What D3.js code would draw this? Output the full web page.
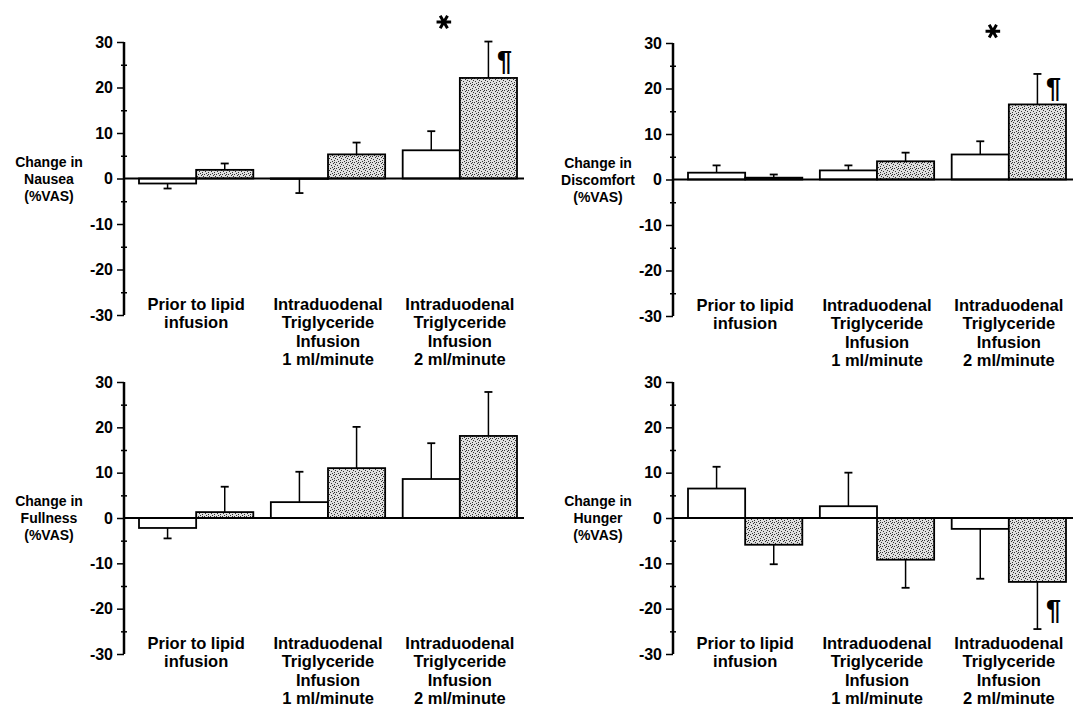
<!DOCTYPE html>
<html>
<head>
<meta charset="utf-8">
<script src="https://cdn.jsdelivr.net/npm/d3@7"></script>
<style>
  body { margin: 0; background: #fff; }
  svg { display: block; font-family: "Liberation Sans", Arial, sans-serif; font-weight: bold; }
</style>
</head>
<body>
<svg id="chart" width="1073" height="711"></svg>
<script>
// categories (multi-line labels)
const categories = [
  ["Prior to lipid", "infusion"],
  ["Intraduodenal", "Triglyceride", "Infusion", "1 ml/minute"],
  ["Intraduodenal", "Triglyceride", "Infusion", "2 ml/minute"]
];
const yTicks = [-30, -20, -10, 0, 10, 20, 30];
const series = ["open", "stippled"];

// means and SEM
const nauseaOpen = [-1.1, -0.1, 6.2];
const nauseaOpenSem = [1.1, 3.1, 4.2];
const nauseaStip = [1.9, 5.3, 22.1];
const nauseaStipSem = [1.4, 2.6, 8.0];

const discomfortOpen = [1.5, 2.0, 5.5];
const discomfortOpenSem = [1.6, 1.1, 2.9];
const discomfortStip = [0.4, 4.0, 16.5];
const discomfortStipSem = [0.7, 1.9, 6.7];

const fullnessOpen = [-2.2, 3.5, 8.6];
const fullnessOpenSem = [2.3, 6.7, 7.9];
const fullnessStip = [1.3, 11.0, 18.1];
const fullnessStipSem = [5.6, 9.1, 9.7];

const hungerOpen = [6.5, 2.6, -2.4];
const hungerOpenSem = [4.8, 7.4, 11.0];
const hungerStip = [-5.9, -9.2, -14.1];
const hungerStipSem = [4.3, 6.2, 10.4];

// significance marks: [panel, group, series, symbol, value]
const marks = [
  ["Nausea", 2, null, "*", 34.4],
  ["Nausea", 2, "stippled", "¶", 25.8],
  ["Discomfort", 2, null, "*", 32.6],
  ["Discomfort", 2, "stippled", "¶", 20.1],
  ["Hunger", 2, "stippled", "¶", -20.3]
];

const panels = [
  { name: "Nausea", open: nauseaOpen, openSem: nauseaOpenSem, stip: nauseaStip, stipSem: nauseaStipSem,
    axisX: 124, top: 42, bottom: 315 },
  { name: "Discomfort", open: discomfortOpen, openSem: discomfortOpenSem, stip: discomfortStip, stipSem: discomfortStipSem,
    axisX: 673, top: 43, bottom: 316 },
  { name: "Fullness", open: fullnessOpen, openSem: fullnessOpenSem, stip: fullnessStip, stipSem: fullnessStipSem,
    axisX: 124, top: 382, bottom: 654 },
  { name: "Hunger", open: hungerOpen, openSem: hungerOpenSem, stip: hungerStip, stipSem: hungerStipSem,
    axisX: 673, top: 382, bottom: 654 }
];

const svg = d3.select("#chart");

// stipple fill
const pat = svg.append("defs").append("pattern")
  .attr("id", "stipple")
  .attr("width", 6).attr("height", 6)
  .attr("patternUnits", "userSpaceOnUse");
pat.append("rect").attr("width", 6).attr("height", 6).attr("fill", "#e0e0e0");
[[0, 0], [3, 1], [1, 3], [4, 4], [5, 2], [2, 5], [4, 0]].forEach(([x, y]) => {
  pat.append("rect").attr("x", x).attr("y", y).attr("width", 1).attr("height", 1).attr("fill", "#333");
});

panels.forEach(drawPanel);

function drawPanel(p) {
  const g = svg.append("g").attr("class", "panel");

  const y = d3.scaleLinear().domain([-30, 30]).range([p.bottom, p.top]);
  const x = d3.scaleBand()
    .domain(d3.range(categories.length))
    .range([p.axisX + 15, p.axisX + 393])
    .paddingInner(0.133)
    .paddingOuter(0);
  const xs = d3.scaleBand().domain(series).range([0, x.bandwidth()]);

  // y axis
  const axis = d3.axisLeft(y)
    .tickValues(d3.range(-30, 31, 5))
    .tickSize(5)
    .tickFormat((d) => (yTicks.includes(d) ? d : ""));
  const ag = g.append("g")
    .attr("transform", `translate(${p.axisX},0)`)
    .call(axis);
  ag.select(".domain").attr("stroke", "#000").attr("stroke-width", 2.5)
    .attr("d", `M0,${p.top}V${p.bottom}`);
  ag.selectAll(".tick line")
    .attr("stroke", "#000")
    .attr("stroke-width", 1.5)
    .attr("x1", (d) => (yTicks.includes(d) ? 0 : 3))
    .attr("x2", (d) => (yTicks.includes(d) ? -7 : -3));
  ag.selectAll(".tick text")
    .attr("x", -11)
    .attr("font-size", 16)
    .attr("font-family", "Liberation Sans, Arial, sans-serif")
    .attr("font-weight", "bold")
    .attr("fill", "#000");

  // y label
  const yl = g.append("text")
    .attr("x", p.axisX - 75)
    .attr("y", y(0) + 5)
    .attr("text-anchor", "middle")
    .attr("font-size", 14);
  ["Change in", p.name, "(%VAS)"].forEach((t, i) => {
    yl.append("tspan").attr("x", p.axisX - 75).attr("dy", i === 0 ? -17 : 17).text(t);
  });

  // bars
  const rows = [];
  categories.forEach((c, i) => {
    rows.push({ group: i, s: "open", v: p.open[i], sem: p.openSem[i] });
    rows.push({ group: i, s: "stippled", v: p.stip[i], sem: p.stipSem[i] });
  });

  g.selectAll("rect.bar")
    .data(rows)
    .join("rect")
    .attr("class", "bar")
    .attr("x", (d) => x(d.group) + xs(d.s))
    .attr("width", xs.bandwidth())
    .attr("y", (d) => y(Math.max(0, d.v)))
    .attr("height", (d) => Math.abs(y(d.v) - y(0)))
    .attr("fill", (d) => (d.s === "open" ? "#fff" : "url(#stipple)"))
    .attr("stroke", "#000")
    .attr("stroke-width", 1.8);

  // error bars
  const cx = (d) => x(d.group) + xs(d.s) + xs.bandwidth() / 2;
  const tip = (d) => d.v + (d.v < 0 ? -d.sem : d.sem);
  const eg = g.selectAll("g.err").data(rows).join("g").attr("class", "err");
  eg.append("line")
    .attr("x1", cx).attr("x2", cx)
    .attr("y1", (d) => y(d.v)).attr("y2", (d) => y(tip(d)))
    .attr("stroke", "#000").attr("stroke-width", 1.5);
  eg.append("line")
    .attr("x1", (d) => cx(d) - 4).attr("x2", (d) => cx(d) + 4)
    .attr("y1", (d) => y(tip(d))).attr("y2", (d) => y(tip(d)))
    .attr("stroke", "#000").attr("stroke-width", 1.8);

  // zero line
  g.append("line")
    .attr("x1", p.axisX).attr("x2", p.axisX + 400)
    .attr("y1", y(0)).attr("y2", y(0))
    .attr("stroke", "#000").attr("stroke-width", 2.2);

  // category labels
  categories.forEach((lines, i) => {
    const t = g.append("text")
      .attr("text-anchor", "middle")
      .attr("font-size", 16.5);
    lines.forEach((l, j) => {
      t.append("tspan")
        .attr("x", x(i) + x.bandwidth() / 2)
        .attr("y", y(-30) - 5 + j * 18.3)
        .text(l);
    });
  });

  // significance marks
  marks.filter((m) => m[0] === p.name).forEach(([, grp, s, sym, v]) => {
    if (sym === "*") {
      g.append("path")
        .attr("d", d3.symbol(d3.symbolAsterisk, 150)())
        .attr("transform", `translate(${x(grp) + x.bandwidth() / 2 - 16},${y(v)}) rotate(90)`)
        .attr("fill", "none")
        .attr("stroke", "#000")
        .attr("stroke-width", 3);
    } else {
      g.append("text")
        .attr("x", x(grp) + xs(s) + xs.bandwidth() / 2 + 16)
        .attr("y", y(v) + 9)
        .attr("text-anchor", "middle")
        .attr("font-size", 27)
        .text(sym);
    }
  });
}
</script>
</body>
</html>
